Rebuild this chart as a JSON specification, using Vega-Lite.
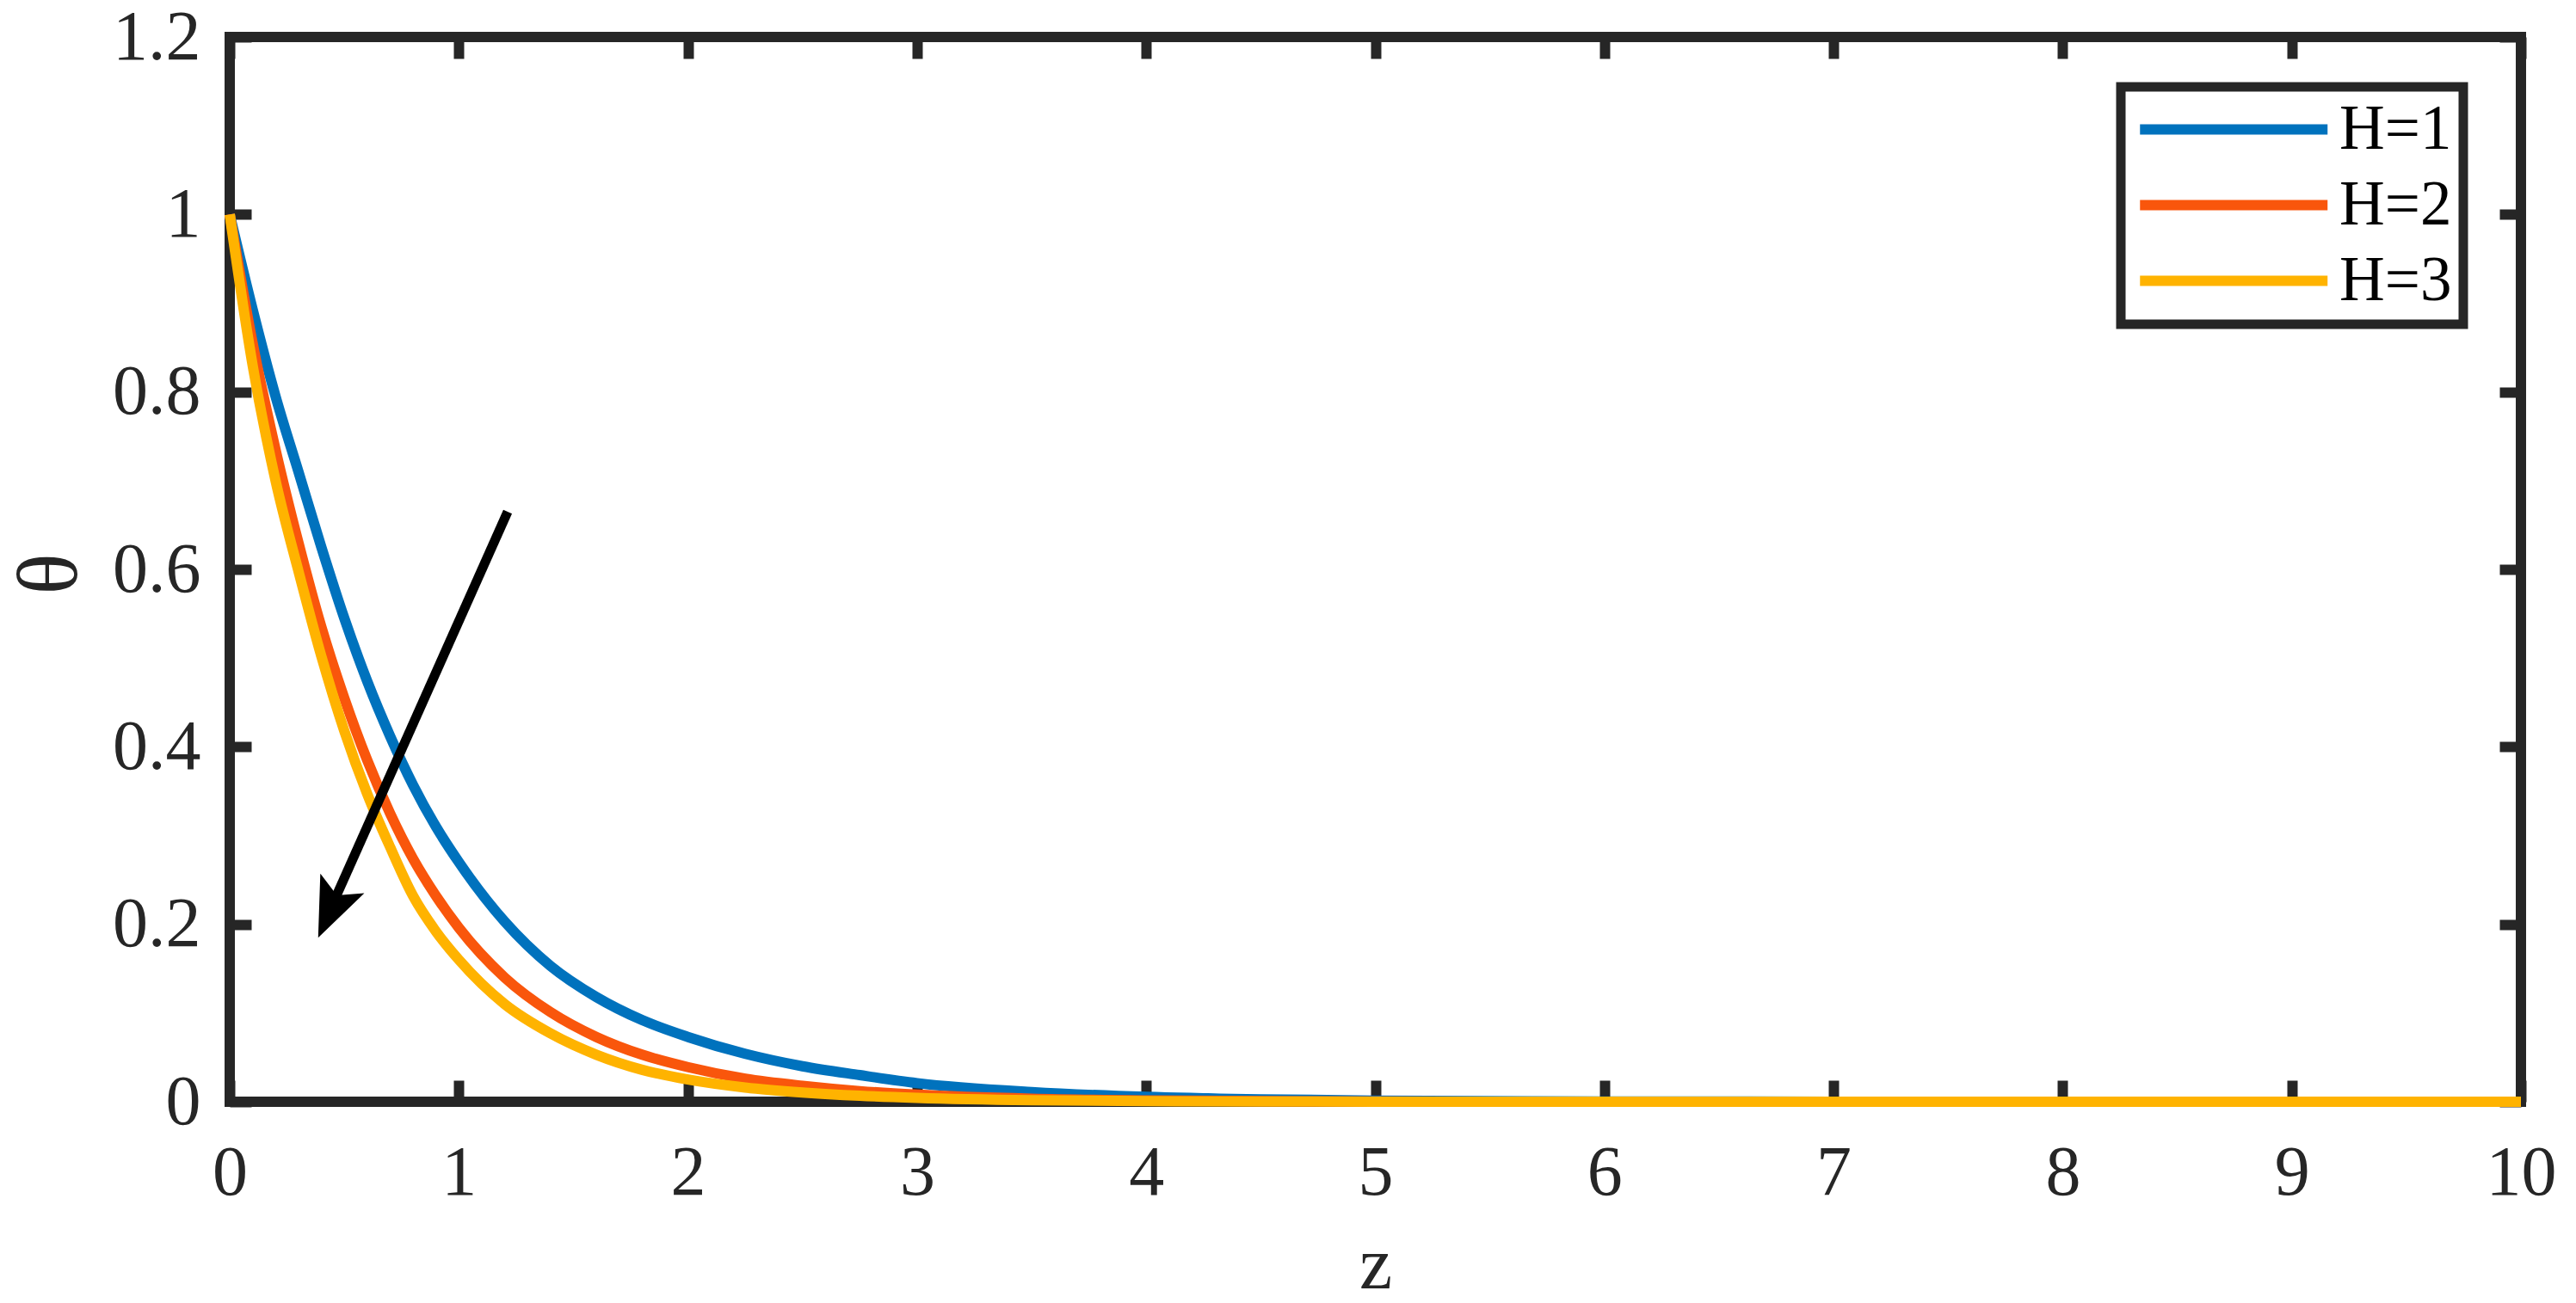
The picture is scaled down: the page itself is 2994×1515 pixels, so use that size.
{
  "$schema": "https://vega.github.io/schema/vega-lite/v6.json",
  "autosize": {"type": "none"},
  "padding": {"left": 267, "top": 43, "right": 64, "bottom": 234},
  "width": 2663,
  "height": 1238,
  "background": "white",
  "config": {
    "view": {"stroke": "#262626", "strokeWidth": 12},
    "font": "Liberation Serif",
    "axis": {"grid": false, "domain": false, "labelFlush": false, "labelOverlap": false, "labelFont": "Liberation Serif", "titleFont": "Liberation Serif", "labelColor": "#262626", "titleColor": "#262626", "tickColor": "#262626", "titleFontWeight": "normal"}
  },
  "datasets": {
    "curves": [
      {"z":0,"theta":1,"H":"H=1"},{"z":0.1,"theta":0.893,"H":"H=1"},{"z":0.2,"theta":0.795,"H":"H=1"},{"z":0.3,"theta":0.71,"H":"H=1"},{"z":0.4,"theta":0.625,"H":"H=1"},{"z":0.5,"theta":0.545,"H":"H=1"},{"z":0.6,"theta":0.474,"H":"H=1"},{"z":0.7,"theta":0.412,"H":"H=1"},{"z":0.8,"theta":0.357,"H":"H=1"},{"z":0.9,"theta":0.31,"H":"H=1"},{"z":1.0,"theta":0.27,"H":"H=1"},{"z":1.2,"theta":0.203,"H":"H=1"},{"z":1.4,"theta":0.153,"H":"H=1"},{"z":1.6,"theta":0.118,"H":"H=1"},{"z":1.8,"theta":0.092,"H":"H=1"},{"z":2.0,"theta":0.073,"H":"H=1"},{"z":2.25,"theta":0.054,"H":"H=1"},{"z":2.5,"theta":0.04,"H":"H=1"},{"z":2.75,"theta":0.03,"H":"H=1"},{"z":3.0,"theta":0.021,"H":"H=1"},{"z":3.5,"theta":0.011,"H":"H=1"},{"z":4.0,"theta":0.0055,"H":"H=1"},{"z":4.5,"theta":0.0027,"H":"H=1"},{"z":5,"theta":0.0013,"H":"H=1"},{"z":6,"theta":0.0003,"H":"H=1"},{"z":7,"theta":0.0001,"H":"H=1"},{"z":8,"theta":0,"H":"H=1"},{"z":9,"theta":0,"H":"H=1"},{"z":10,"theta":0,"H":"H=1"},
      {"z":0,"theta":1,"H":"H=2"},{"z":0.1,"theta":0.855,"H":"H=2"},{"z":0.2,"theta":0.735,"H":"H=2"},{"z":0.3,"theta":0.63,"H":"H=2"},{"z":0.4,"theta":0.535,"H":"H=2"},{"z":0.5,"theta":0.455,"H":"H=2"},{"z":0.6,"theta":0.385,"H":"H=2"},{"z":0.7,"theta":0.325,"H":"H=2"},{"z":0.8,"theta":0.274,"H":"H=2"},{"z":0.9,"theta":0.232,"H":"H=2"},{"z":1.0,"theta":0.196,"H":"H=2"},{"z":1.2,"theta":0.14,"H":"H=2"},{"z":1.4,"theta":0.101,"H":"H=2"},{"z":1.6,"theta":0.073,"H":"H=2"},{"z":1.8,"theta":0.053,"H":"H=2"},{"z":2.0,"theta":0.039,"H":"H=2"},{"z":2.25,"theta":0.026,"H":"H=2"},{"z":2.5,"theta":0.018,"H":"H=2"},{"z":2.75,"theta":0.012,"H":"H=2"},{"z":3.0,"theta":0.008,"H":"H=2"},{"z":3.5,"theta":0.0035,"H":"H=2"},{"z":4.0,"theta":0.0015,"H":"H=2"},{"z":4.5,"theta":0.0007,"H":"H=2"},{"z":5,"theta":0.0003,"H":"H=2"},{"z":6,"theta":0,"H":"H=2"},{"z":7,"theta":0,"H":"H=2"},{"z":8,"theta":0,"H":"H=2"},{"z":9,"theta":0,"H":"H=2"},{"z":10,"theta":0,"H":"H=2"},
      {"z":0,"theta":1,"H":"H=3"},{"z":0.1,"theta":0.83,"H":"H=3"},{"z":0.2,"theta":0.7,"H":"H=3"},{"z":0.3,"theta":0.598,"H":"H=3"},{"z":0.4,"theta":0.502,"H":"H=3"},{"z":0.5,"theta":0.418,"H":"H=3"},{"z":0.6,"theta":0.347,"H":"H=3"},{"z":0.7,"theta":0.287,"H":"H=3"},{"z":0.8,"theta":0.232,"H":"H=3"},{"z":0.9,"theta":0.192,"H":"H=3"},{"z":1.0,"theta":0.16,"H":"H=3"},{"z":1.2,"theta":0.11,"H":"H=3"},{"z":1.4,"theta":0.077,"H":"H=3"},{"z":1.6,"theta":0.053,"H":"H=3"},{"z":1.8,"theta":0.036,"H":"H=3"},{"z":2.0,"theta":0.025,"H":"H=3"},{"z":2.25,"theta":0.016,"H":"H=3"},{"z":2.5,"theta":0.0105,"H":"H=3"},{"z":2.75,"theta":0.0068,"H":"H=3"},{"z":3.0,"theta":0.0044,"H":"H=3"},{"z":3.5,"theta":0.0017,"H":"H=3"},{"z":4.0,"theta":0.0007,"H":"H=3"},{"z":4.5,"theta":0.0003,"H":"H=3"},{"z":5,"theta":0.0001,"H":"H=3"},{"z":6,"theta":0,"H":"H=3"},{"z":7,"theta":0,"H":"H=3"},{"z":8,"theta":0,"H":"H=3"},{"z":9,"theta":0,"H":"H=3"},{"z":10,"theta":0,"H":"H=3"}
    ],
    "arrow": [{"z":1.213,"t":0.665,"z2":0.443,"t2":0.219}],
    "head": [{"z":0.386,"t":0.185}]
  },
  "layer": [
    {
      "data": {"name": "curves"},
      "mark": {"type": "line", "strokeWidth": 12, "interpolate": "monotone", "clip": false},
      "encoding": {
        "x": {"field": "z", "type": "quantitative", "scale": {"domain": [0, 10], "nice": false, "zero": false},
          "axis": {"orient": "bottom", "values": [0,1,2,3,4,5,6,7,8,9,10], "ticks": false, "labelFontSize": 82, "labelBaseline": "alphabetic", "labelPadding": 107, "title": "z", "titleFontSize": 86, "titleBaseline": "alphabetic", "titleY": 216}},
        "y": {"field": "theta", "type": "quantitative", "scale": {"domain": [0, 1.2], "nice": false, "zero": false},
          "axis": {"orient": "left", "values": [0,0.2,0.4,0.6,0.8,1,1.2], "format": "~g", "ticks": false, "labelFontSize": 82, "labelPadding": 34, "labelBaseline": "middle", "title": "θ", "titleFontSize": 100, "titleAngle": 270, "titleBaseline": "alphabetic", "titleAlign": "center", "titleX": -179, "titleY": 624}},
        "color": {"field": "H", "type": "nominal", "scale": {"domain": ["H=1","H=2","H=3"], "range": ["#0072BD","#F9560C","#FFB300"]},
          "legend": {"orient": "none", "legendX": 2198, "legendY": 58, "title": null, "symbolType": "M-1,0L7,0", "symbolSize": 2970, "symbolStrokeWidth": 12, "labelFont": "Liberation Serif", "labelFontSize": 73, "labelColor": "#000000", "labelOffset": 168, "rowPadding": 14, "padding": 13, "strokeColor": "#262626", "fillColor": "white", "labelBaseline": "middle",
            "encode": {"legend": {"update": {"strokeWidth": {"value": 11}}}}}}
      }
    },
    {
      "data": {"name": "arrow"},
      "mark": {"type": "rule", "color": "black", "strokeWidth": 11},
      "encoding": {
        "x": {"field": "z", "type": "quantitative", "axis": {"orient": "top", "values": [0,1,2,3,4,5,6,7,8,9,10], "labels": false, "tickSize": -25, "tickWidth": 12, "title": null}},
        "y": {"field": "t", "type": "quantitative", "axis": {"orient": "right", "values": [0,0.2,0.4,0.6,0.8,1,1.2], "labels": false, "tickSize": -25, "tickWidth": 12, "title": null}},
        "x2": {"field": "z2"},
        "y2": {"field": "t2"}
      }
    },
    {
      "data": {"name": "head"},
      "mark": {"type": "point", "shape": "M0,0L0.6,1.48L0,1.15L-0.6,1.48Z", "size": 8711, "angle": 204, "filled": true, "color": "black", "opacity": 1},
      "encoding": {
        "x": {"field": "z", "type": "quantitative", "axis": {"orient": "bottom", "values": [0,1,2,3,4,5,6,7,8,9,10], "labels": false, "tickSize": -25, "tickWidth": 12, "title": null}},
        "y": {"field": "t", "type": "quantitative", "axis": {"orient": "left", "values": [0,0.2,0.4,0.6,0.8,1,1.2], "labels": false, "tickSize": -25, "tickWidth": 12, "title": null}}
      }
    }
  ],
  "resolve": {"axis": {"x": "independent", "y": "independent"}}
}
